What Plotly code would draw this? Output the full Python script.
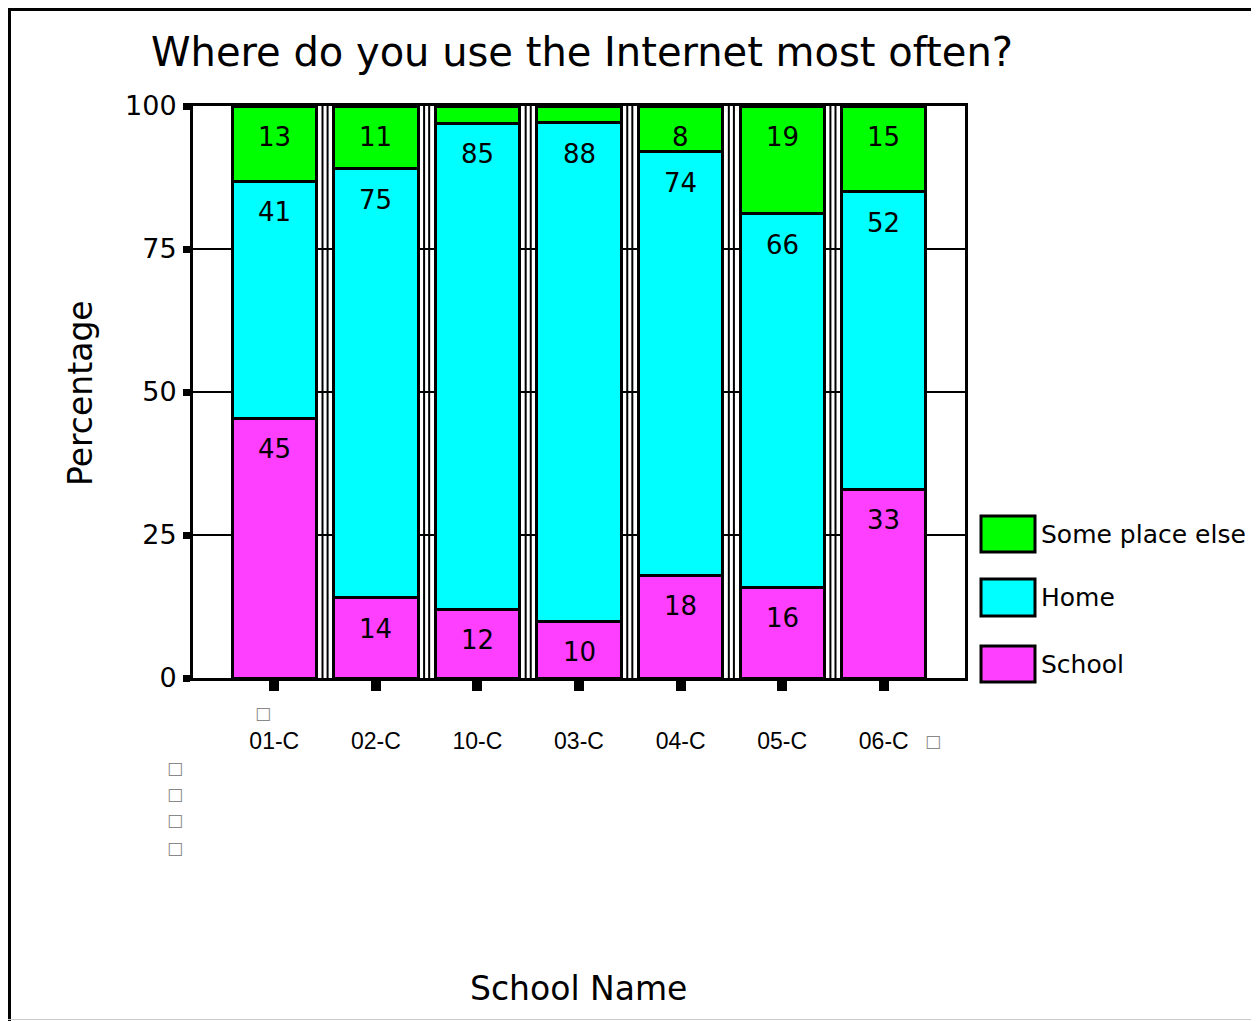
import plotly.graph_objects as go

# ---- data ----
schools = ["01-C", "02-C", "10-C", "03-C", "04-C", "05-C", "06-C"]
school_pct = [45, 14, 12, 10, 18, 16, 33]
home_pct = [41, 75, 85, 88, 74, 66, 52]
else_pct = [13, 11, 3, 3, 8, 19, 15]
school_labels = ["45", "14", "12", "10", "18", "16", "33"]
home_labels = ["41", "75", "85", "88", "74", "66", "52"]
else_labels = ["13", "11", "", "", "8", "19", "15"]
series_names = ["School", "Home", "Some place else"]
colors = ["#ff3fff", "#00ffff", "#00ff00"]
y_ticks = [0, 25, 50, 75, 100]
y_tick_text = ["0", "25", "50", "75", "100"]

TITLE = "Where do you use the Internet most often?"
X_TITLE = "School Name"
Y_TITLE = "Percentage"

# ---- layout geometry (page pixels; page body has an 8px margin) ----
OFF = 8
W, H = 1259 - OFF, 1021 - OFF
PL, PR, PT, PB = 193, 965, 106, 678


def px(xp):
    return (xp - PL) / (PR - PL)


def py(yp):
    return (PB - yp) / (PB - PT)


# normalise each school's answers to 100 %
totals = [a + b + c for a, b, c in zip(school_pct, home_pct, else_pct)]
series_vals = [school_pct, home_pct, else_pct]
series_labels = [school_labels, home_labels, else_labels]
norm = [[v / t * 100 for v, t in zip(vals, totals)] for vals in series_vals]

FONT = "DejaVu Sans"
fig = go.Figure()
for name, vals, col in zip(series_names, norm, colors):
    fig.add_trace(go.Bar(
        x=schools, y=vals, name=name, width=0.83,
        marker=dict(color=col, line=dict(color="black", width=3)),
        showlegend=False,
    ))

annotations = []
# value labels near the top of each segment
cum = [0.0] * len(schools)
for vals, labels in zip(norm, series_labels):
    for i, (v, lab) in enumerate(zip(vals, labels)):
        cum[i] += v
        if lab:
            annotations.append(dict(
                x=schools[i], y=cum[i], xref="x", yref="y", text=lab,
                showarrow=False, yanchor="top", yshift=-14,
                font=dict(family=FONT, size=26, color="black"),
            ))

# axis titles
annotations.append(dict(x=px(578), y=py(988), xref="paper", yref="paper",
                        text=X_TITLE, showarrow=False, xanchor="center", yanchor="middle",
                        font=dict(family=FONT, size=33, color="black")))
annotations.append(dict(x=px(80), y=py(393), xref="paper", yref="paper",
                        text=Y_TITLE, showarrow=False, textangle=-90,
                        xanchor="center", yanchor="middle",
                        font=dict(family=FONT, size=33, color="black")))

shapes = []
# double vertical separators between bars
for i in range(len(schools) - 1):
    for d in (-0.025, 0.025):
        shapes.append(dict(type="line", xref="x", yref="y", x0=i + 0.5 + d, x1=i + 0.5 + d,
                           y0=0, y1=100, layer="below", line=dict(color="black", width=2)))

# custom legend (large swatches)
legend_rows = [("Some place else", colors[2], 516, 552),
               ("Home", colors[1], 579, 616),
               ("School", colors[0], 646, 682)]
for name, col, y0, y1 in legend_rows:
    shapes.append(dict(type="rect", xref="paper", yref="paper",
                       x0=px(981), x1=px(1035), y0=py(y1), y1=py(y0),
                       fillcolor=col, line=dict(color="black", width=3)))
    annotations.append(dict(x=px(1039), y=py((y0 + y1) / 2), xref="paper", yref="paper",
                            text=name, showarrow=False, xanchor="left", yanchor="middle",
                            font=dict(family=FONT, size=25, color="black")))

# missing-glyph boxes present in the original
for (bx, by) in [(263, 713), (933, 741), (175, 768), (175, 794), (175, 820), (175, 848)]:
    annotations.append(dict(x=px(bx), y=py(by), xref="paper", yref="paper",
                            text="□", showarrow=False, xanchor="center", yanchor="middle",
                            font=dict(family=FONT, size=17, color="#888888")))

# outer frame
shapes += [
    dict(type="line", xref="paper", yref="paper", x0=px(9.5), x1=px(9.5), y0=py(8), y1=py(1021),
         line=dict(color="black", width=3)),
    dict(type="line", xref="paper", yref="paper", x0=px(8), x1=px(1259), y0=py(9.5), y1=py(9.5),
         line=dict(color="black", width=3)),
    dict(type="line", xref="paper", yref="paper", x0=px(1257), x1=px(1257), y0=py(8), y1=py(1021),
         line=dict(color="#888888", width=1)),
    dict(type="line", xref="paper", yref="paper", x0=px(8), x1=px(1259), y0=py(1019.5), y1=py(1019.5),
         line=dict(color="#cccccc", width=1)),
]

fig.update_layout(
    width=W, height=H, autosize=False,
    margin=dict(l=PL - OFF, r=W - (PR - OFF), t=PT - OFF, b=H - (PB - OFF), pad=0),
    paper_bgcolor="white", plot_bgcolor="white",
    barmode="stack",
    title=dict(text=TITLE, x=(582 - OFF) / W, y=1 - (52 - OFF) / H,
               xref="container", yref="container",
               xanchor="center", yanchor="middle",
               font=dict(family=FONT, size=40, color="black")),
    xaxis=dict(type="category", range=[-0.8, len(schools) - 0.2],
               showline=True, linecolor="black", linewidth=3, mirror=True,
               ticks="outside", ticklen=10, tickwidth=10, tickcolor="black",
               tickfont=dict(family="Liberation Sans", size=23, color="black"),
               ticklabelstandoff=30, showgrid=False, zeroline=False),
    yaxis=dict(range=[0, 100], tickvals=y_ticks, ticktext=y_tick_text,
               showline=True, linecolor="black", linewidth=3, mirror=True,
               ticks="outside", ticklen=7, tickwidth=7, tickcolor="black",
               tickfont=dict(family=FONT, size=27, color="black"),
               ticklabelstandoff=1,
               showgrid=True, gridcolor="black", gridwidth=2, zeroline=False),
    shapes=shapes, annotations=annotations,
)

fig.write_html("out.html")
